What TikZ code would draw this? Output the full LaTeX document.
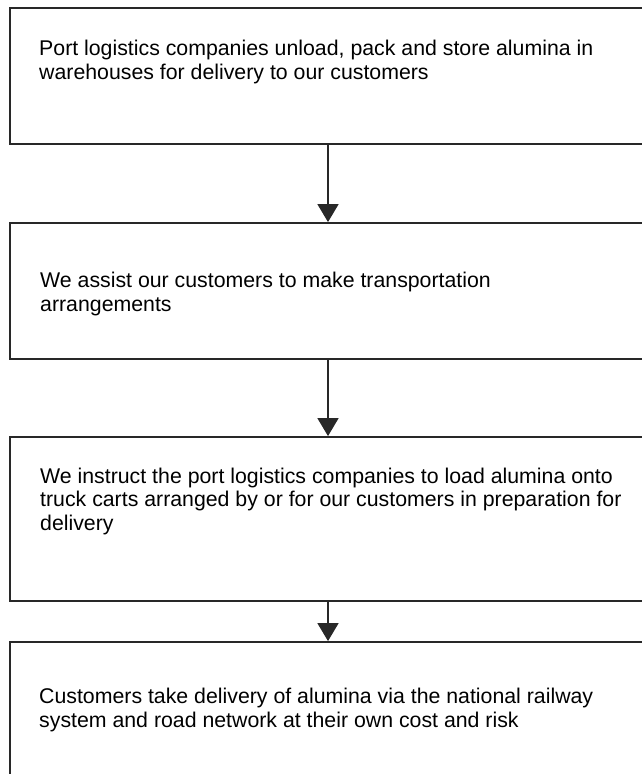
\documentclass[tikz,border=0pt]{standalone}
\usepackage{fontspec}
\setmainfont{Liberation Sans}
\usetikzlibrary{arrows.meta}
\definecolor{boxline}{RGB}{40,40,40}
\tikzset{
  stagebox/.style={draw=boxline, line width=1.8pt, rectangle, minimum width=636pt, inner sep=0pt},
  stagetext/.style={anchor=base west, align=left, inner sep=0pt, font=\fontsize{21.3}{23.5}\selectfont},
  flowarrow/.style={draw=boxline, line width=1.5pt, -{Triangle[length=18pt, width=21pt]}}
}

\begin{document}
\begin{tikzpicture}[x=1pt, y=-1pt]
  \useasboundingbox (0,0) rectangle (642,774);
  \clip (0,0) rectangle (642,774);
  % Boxes
  \node[stagebox, minimum height=136pt] (port) at (328,76) {};
  \node[stagebox, minimum height=136pt] (assist) at (328,291) {};
  \node[stagebox, minimum height=164pt] (instruct) at (328,519) {};
  \node[stagebox, minimum height=136pt] (delivery) at (328,710) {};

  % Texts (placed at the baseline of their last line)
  \node[stagetext] (porttext) at (39,79.3) {Port logistics companies unload, pack and store alumina in\\warehouses for delivery to our customers};
  \node[stagetext] (assisttext) at (40,311) {We assist our customers to make transportation\\arrangements};
  \node[stagetext] (instructtext) at (40,530) {We instruct the port logistics companies to load alumina onto\\truck carts arranged by or for our customers in preparation for\\delivery};
  \node[stagetext] (deliverytext) at (39,727) {Customers take delivery of alumina via the national railway\\system and road network at their own cost and risk};

  % Arrows
  \draw[flowarrow] (port) -- (assist);
  \draw[flowarrow] (assist) -- (instruct);
  \draw[flowarrow] (instruct) -- (delivery);
\end{tikzpicture}
\end{document}
